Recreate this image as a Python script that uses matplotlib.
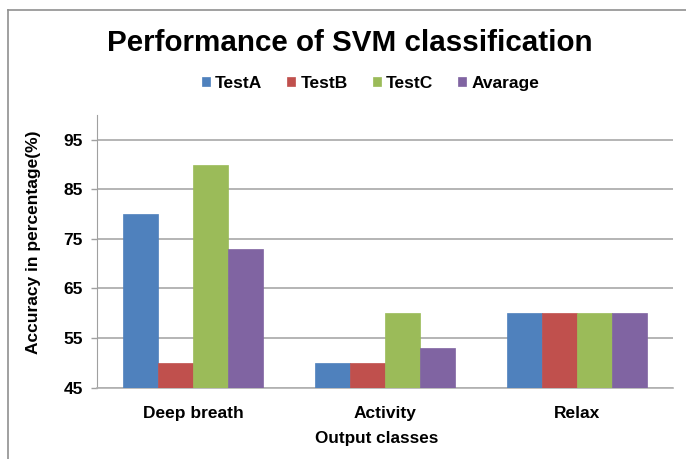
import matplotlib
matplotlib.use("Agg")
import matplotlib.pyplot as plt
import numpy as np
from matplotlib.lines import Line2D

plt.rcParams['font.family'] = ['Liberation Sans', 'DejaVu Sans']

categories = ["Deep breath", "Activity", "Relax"]
series_names = ["TestA", "TestB", "TestC", "Avarage"]
test_a = [80, 50, 60]
test_b = [50, 50, 60]
test_c = [90, 60, 60]
average = [73, 53, 60]
yticks = [45, 55, 65, 75, 85, 95]

colors = ["#4F81BD", "#C0504D", "#9BBB59", "#8064A2"]
series = [test_a, test_b, test_c, average]

fig = plt.figure(figsize=(6.86, 4.59), dpi=100)
ax = fig.add_axes([97 / 686, 1 - 387.5 / 459, (673 - 97) / 686, (387.5 - 115) / 459])

x = np.arange(len(categories))
w = 0.181
for i, (vals, c, n) in enumerate(zip(series, colors, series_names)):
    ax.bar(x + (i - 1.5) * w, [v - 45 for v in vals], width=w, bottom=45,
           color=c, label=n, edgecolor=c, linewidth=0.5, zorder=3)

ax.set_xlim(-0.5, 2.5)
ax.set_ylim(45, 100)
ax.set_yticks(yticks)
ax.set_yticklabels([str(t) for t in yticks], fontsize=12.5, fontweight='bold')
ax.set_xticks(x)
ax.set_xticklabels(categories, fontsize=12.5, fontweight='bold')
ax.tick_params(axis='x', length=0, pad=13)
ax.tick_params(axis='y', length=4, width=1, color='#a0a0a0', pad=6)
ax.yaxis.grid(True, color='#a8a8a8', linewidth=1.2, zorder=0)
ax.set_axisbelow(True)
for s in ['top', 'right']:
    ax.spines[s].set_visible(False)
ax.spines['left'].set_color('#a0a0a0')
ax.spines['bottom'].set_color('#b0b0b0')
ax.spines['bottom'].set_linewidth(1.2)

ax.set_ylabel("Accuracy in percentage(%)", fontsize=12.5, fontweight='bold')
ax.yaxis.set_label_coords(-0.097, 0.534)
ax.set_xlabel("Output classes", fontsize=12.3, fontweight='bold')
ax.xaxis.set_label_coords(0.486, -0.158)

fig.text(0.510, 0.907, "Performance of SVM classification", ha='center', va='center',
         fontsize=21.3, fontweight='bold')

leg = fig.legend(loc='center', bbox_to_anchor=(0.540, 0.819), ncol=4, frameon=False,
                 prop={'size': 12.5, 'weight': 'bold'}, handlelength=0.46, handleheight=0.46,
                 handletextpad=0.3, columnspacing=1.44, borderaxespad=0, borderpad=0)

# outer chart border (top and left visible)
fig.add_artist(Line2D([8 / 686, 1.0], [1 - 10 / 459, 1 - 10 / 459], color='#909090', linewidth=1.2,
                      transform=fig.transFigure))
fig.add_artist(Line2D([8 / 686, 8 / 686], [0, 1 - 10 / 459], color='#909090', linewidth=1.2,
                      transform=fig.transFigure))

fig.savefig("out.png", dpi=100)
